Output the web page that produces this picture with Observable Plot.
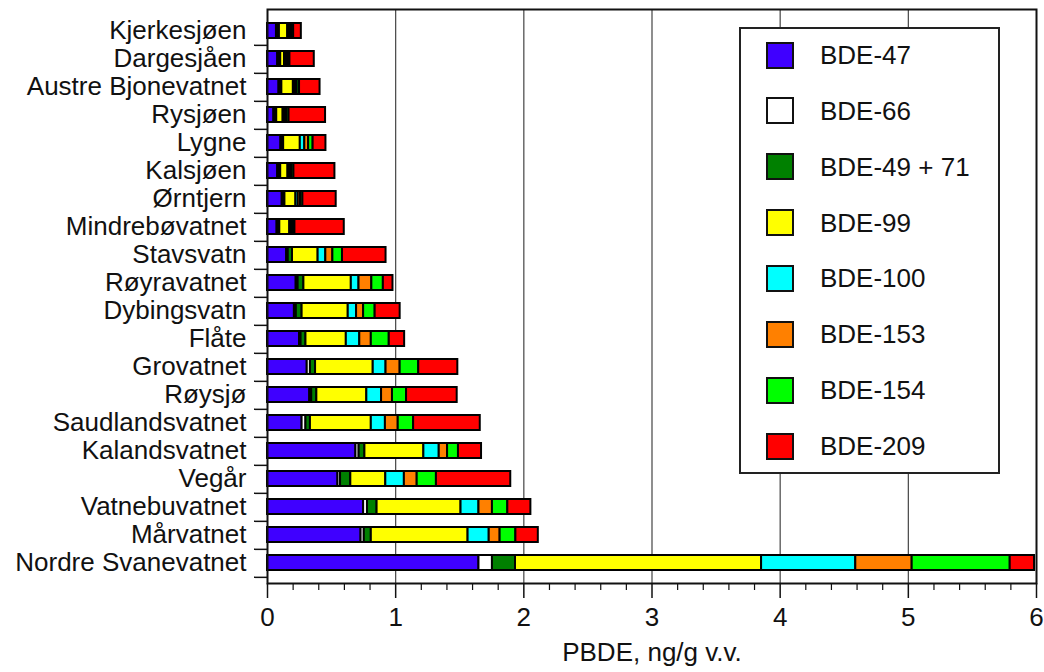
<!DOCTYPE html>
<html><head><meta charset="utf-8">
<script src="https://cdn.jsdelivr.net/npm/d3@7"></script>
<script src="https://cdn.jsdelivr.net/npm/@observablehq/plot@0.6"></script>
<style>
body{margin:0;background:#fff;font-family:"Liberation Sans",Arial,sans-serif;}
#wrap{position:relative;width:1044px;height:672px;}
#legend{position:absolute;left:739px;top:27px;width:257px;height:443px;border:2px solid #222;background:#fff;}
.sw{position:absolute;left:25px;width:24px;height:23px;border:2px solid #111;}
.lt{position:absolute;left:79px;font-size:26px;line-height:30px;color:#111;white-space:nowrap;}
</style></head><body><div id="wrap"></div>
<script>
const lakes = ["Kjerkesjøen","Dargesjåen","Austre Bjonevatnet","Rysjøen","Lygne","Kalsjøen","Ørntjern","Mindrebøvatnet","Stavsvatn","Røyravatnet","Dybingsvatn","Flåte","Grovatnet","Røysjø","Saudlandsvatnet","Kalandsvatnet","Vegår","Vatnebuvatnet","Mårvatnet","Nordre Svanevatnet"];
const series = ["BDE-47","BDE-66","BDE-49 + 71","BDE-99","BDE-100","BDE-153","BDE-154","BDE-209"];
const colors = ["#3f00ff","#ffffff","#008000","#ffff00","#00ffff","#ff8000","#00ff00","#ff0000"];
const bde47   = [0.07,0.08,0.09,0.05,0.105,0.08,0.115,0.075,0.15,0.224,0.21,0.25,0.31,0.33,0.27,0.69,0.55,0.75,0.73,1.65];
const bde66   = [0.008,0.008,0.007,0.007,0.006,0.008,0.006,0.006,0.012,0.015,0.015,0.012,0.025,0.015,0.03,0.025,0.02,0.03,0.025,0.105];
const bde4971 = [0.015,0.015,0.015,0.015,0.015,0.015,0.015,0.015,0.033,0.045,0.045,0.038,0.04,0.04,0.035,0.045,0.08,0.075,0.055,0.18];
const bde99   = [0.065,0.03,0.09,0.05,0.13,0.057,0.086,0.078,0.20,0.37,0.36,0.315,0.45,0.39,0.475,0.46,0.273,0.655,0.755,1.92];
const bde100  = [0.015,0.012,0.015,0.015,0.035,0.015,0.018,0.013,0.06,0.06,0.065,0.105,0.10,0.115,0.11,0.12,0.145,0.14,0.165,0.735];
const bde153  = [0.015,0.015,0.015,0.015,0.03,0.015,0.018,0.013,0.055,0.10,0.055,0.09,0.11,0.085,0.10,0.065,0.10,0.105,0.085,0.44];
const bde154  = [0.016,0.015,0.018,0.016,0.035,0.016,0.018,0.014,0.075,0.09,0.09,0.14,0.145,0.11,0.12,0.085,0.15,0.12,0.123,0.765];
const bde209  = [0.06,0.19,0.16,0.285,0.1,0.32,0.26,0.385,0.34,0.075,0.195,0.12,0.305,0.395,0.52,0.18,0.58,0.18,0.175,0.19];
const majorTicks = [0,1,2,3,4,5,6];
const minorTicks = [0.2,0.4,0.6,0.8,1.2,1.4,1.6,1.8,2.2,2.4,2.6,2.8,3.2,3.4,3.6,3.8,4.2,4.4,4.6,4.8,5.2,5.4,5.6,5.8];
const gridTicks = [1,2,3,4,5];
const xLabel = "PBDE, ng/g v.v.";

const valuesBySeries = [bde47,bde66,bde4971,bde99,bde100,bde153,bde154,bde209];
const table = [];
lakes.forEach((lake,i) => series.forEach((s,j) => table.push({lake, series: s, value: valuesBySeries[j][i]})));

const step = (672 - 89 - 9) / lakes.length;
const chart = Plot.plot({
  width: 1044, height: 672,
  marginLeft: 267, marginRight: 8, marginTop: 9, marginBottom: 89,
  style: {fontFamily: "'Liberation Sans', Arial, sans-serif", fontSize: "26px", color: "#111", background: "#fff"},
  x: {domain: [0, 6]},
  y: {domain: lakes, padding: 0.48},
  color: {domain: series, range: colors},
  marks: [
    Plot.ruleX(gridTicks, {stroke: "#444", strokeWidth: 1.2}),
    Plot.barX(table, {y: "lake", x: "value", fill: "series", stroke: "#000", strokeWidth: 2}),
    Plot.frame({stroke: "#111", strokeWidth: 2}),
    Plot.axisY({tickSize: 0, tickPadding: 21, label: null}),
    Plot.axisY({tickSize: 13, tickFormat: () => "", dy: step / 2, label: null, strokeWidth: 1.5}),
    Plot.axisX(minorTicks, {tickSize: 7, tickFormat: () => "", label: null, strokeWidth: 1.2}),
    Plot.axisX(majorTicks, {tickSize: 15, tickPadding: 9, tickFormat: "d", label: null, strokeWidth: 1.5}),
    Plot.text([xLabel], {frameAnchor: "bottom", dy: 77, lineAnchor: "bottom", fontSize: 26})
  ]
});
const wrap = document.getElementById("wrap");
wrap.appendChild(chart);

const legend = document.createElement("div");
legend.id = "legend";
series.forEach((s, j) => {
  const c = 26 + j * 55.86;
  const sw = document.createElement("div");
  sw.className = "sw"; sw.style.top = (c - 13.5) + "px"; sw.style.background = colors[j];
  const t = document.createElement("div");
  t.className = "lt"; t.style.top = (c - 15) + "px"; t.textContent = s;
  legend.appendChild(sw); legend.appendChild(t);
});
wrap.appendChild(legend);
</script></body></html>
